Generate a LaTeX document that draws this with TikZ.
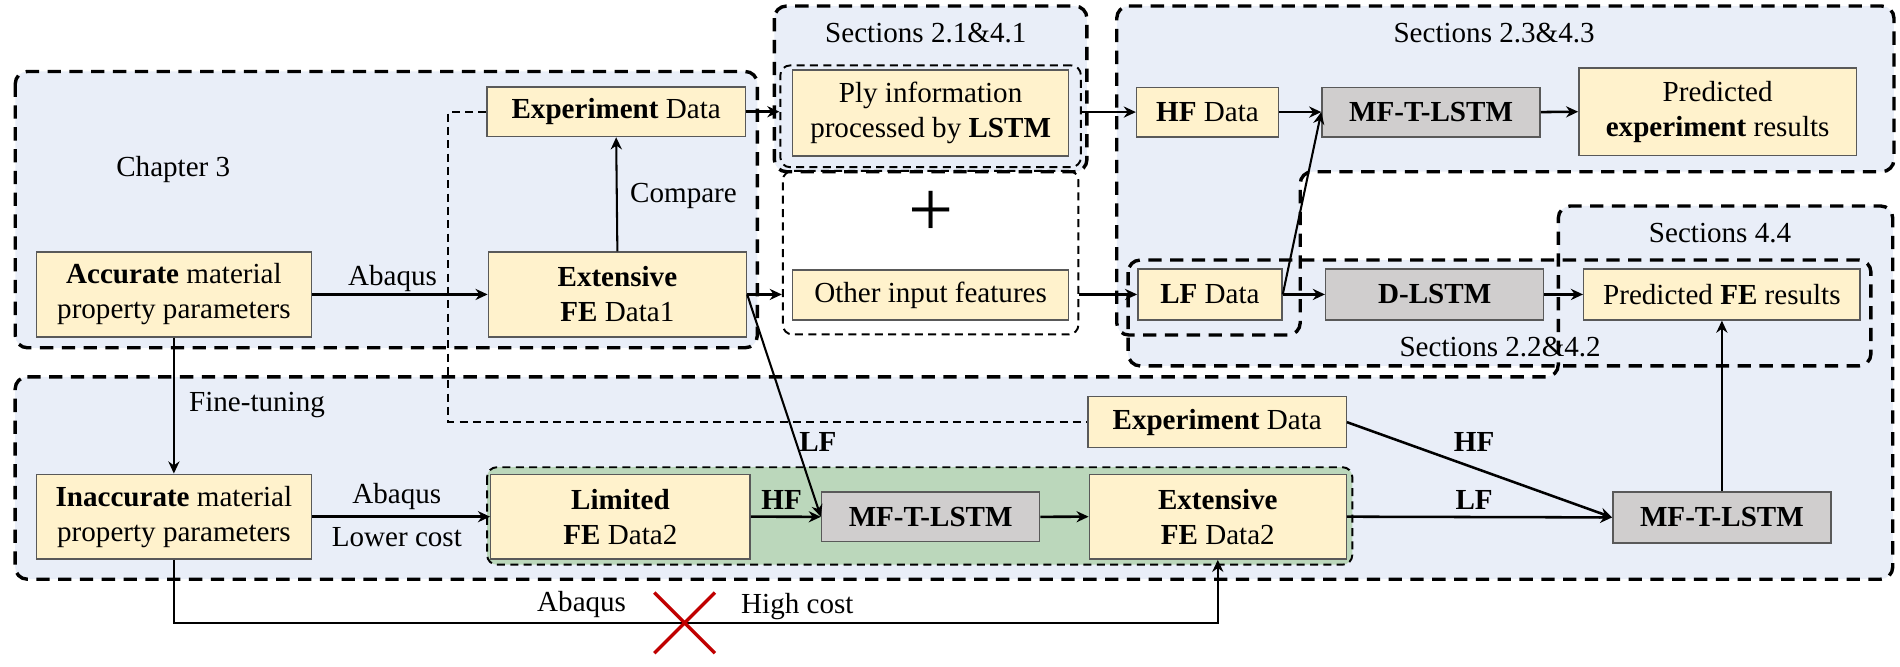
\documentclass[tikz,border=0pt]{standalone}
\usepackage{fontspec}
\setmainfont{Liberation Serif}
\usetikzlibrary{arrows.meta}
\definecolor{boxY}{HTML}{FFF2CC}
\definecolor{boxG}{HTML}{D0CECE}
\definecolor{regB}{HTML}{E9EEF8}
\definecolor{regG}{HTML}{BBD7BB}
\definecolor{xred}{HTML}{C00000}
\begin{document}
\begin{tikzpicture}[x=0.5pt,y=-0.5pt,
  every node/.style={font=\fontsize{12}{14.5}\selectfont},
  ybox/.style={draw=black!65, line width=0.6pt, fill=boxY, inner sep=0pt, align=center},
  gbox/.style={draw=black!65, line width=0.6pt, fill=boxG, inner sep=0pt, align=center, font=\fontsize{12}{14.5}\selectfont\bfseries},
  region/.style={draw=black, line width=1.4pt, dash pattern=on 5.5pt off 3.5pt, rounded corners=5pt},
  thinreg/.style={draw=black, line width=0.8pt, dash pattern=on 3.3pt off 2.2pt, rounded corners=4pt},
  thinline/.style={draw=black, line width=0.8pt, dash pattern=on 3.3pt off 2.2pt},
  arr/.style={-{Stealth[length=5pt,width=4.6pt]}, line width=1.05pt},
  tarr/.style={-{Stealth[length=5pt,width=4.6pt]}, line width=0.85pt}]
\useasboundingbox (0,0) rectangle (1568,550);
% region fills
\fill[regB, rounded corners=5pt] (12.6,59) rectangle (625,287);
\fill[regB, rounded corners=5pt] (639,5) rectangle (897,141.7);
\fill[regB, rounded corners=5pt] (921.6,5) -- (1563,5) -- (1563,141.7) -- (1073,141.7) -- (1073,276.5) -- (921.6,276.5) -- cycle;
\fill[regB, rounded corners=5pt] (12.5,311) -- (1286,311) -- (1286,170) -- (1562,170) -- (1562,478) -- (12.5,478) -- cycle;
\fill[regB, rounded corners=5pt] (931,214.6) rectangle (1544,302);
\fill[regG, rounded corners=4pt] (402,385.6) rectangle (1116,466);
% region borders
\draw[region] (12.6,59) rectangle (625,287);
\draw[region] (639,5) rectangle (897,141.7);
\draw[region] (921.6,5) -- (1563,5) -- (1563,141.7) -- (1073,141.7) -- (1073,276.5) -- (921.6,276.5) -- cycle;
\draw[region] (12.5,311) -- (1286,311) -- (1286,170) -- (1562,170) -- (1562,478) -- (12.5,478) -- cycle;
\draw[region] (931,214.6) rectangle (1544,302);
\draw[thinreg] (402,385.6) rectangle (1116,466);
% thin enclosures
\node[thinreg, inner sep=0pt, minimum width=124pt, minimum height=42pt] (plyb) at (768,96) {};
\node[thinreg, inner sep=0pt, minimum width=122pt, minimum height=67.5pt] (othb) at (768,208.5) {};
% region labels
\node (lch3) at (143,140) {Chapter 3};
\node (ls21) at (764,27) {Sections 2.1\&4.1};
\node (ls23) at (1233,27.5) {Sections 2.3\&4.3};
\node (ls44) at (1419.5,192.5) {Sections 4.4};
\node (ls22) at (1238,286) {Sections 2.2\&4.2};
\node[font=\fontsize{33}{33}\selectfont] (plus) at (768,176.6) {+};
% boxes
\node[ybox, minimum width=106.5pt, minimum height=20.5pt] (expT) at (508.5,92.2) {\textbf{Experiment} Data};
\node[ybox, minimum width=113.5pt, minimum height=35pt] (acc) at (143.5,243) {\textbf{Accurate} material\\property parameters};
\node[ybox, minimum width=106.5pt, minimum height=35pt] (ext1) at (509.5,243) {\textbf{Extensive}\\\textbf{FE} Data1};
\node[ybox, minimum width=114pt, minimum height=35.5pt] (ply) at (768,93.3) {Ply information\\processed by \textbf{LSTM}};
\node[ybox, minimum width=114pt, minimum height=20.5pt] (other) at (768,243.5) {Other input features};
\node[ybox, minimum width=58.5pt, minimum height=20.5pt] (hf) at (996.5,92.5) {\textbf{HF} Data};
\node[gbox, minimum width=90pt, minimum height=20.5pt] (mft1) at (1181,92.5) {MF-T-LSTM};
\node[ybox, minimum width=114.5pt, minimum height=36pt] (predE) at (1417.5,92.2) {Predicted\\\textbf{experiment} results};
\node[ybox, minimum width=59.5pt, minimum height=21pt] (lf) at (998.5,243) {\textbf{LF} Data};
\node[gbox, minimum width=90pt, minimum height=21pt] (dl) at (1184,243) {D-LSTM};
\node[ybox, minimum width=114pt, minimum height=21pt] (predF) at (1421,243) {Predicted \textbf{FE} results};
\node[ybox, minimum width=106.5pt, minimum height=21pt] (expB) at (1004.5,348.4) {\textbf{Experiment} Data};
\node[ybox, minimum width=113.5pt, minimum height=35pt] (inacc) at (143.5,426.4) {\textbf{Inaccurate} material\\property parameters};
\node[ybox, minimum width=107pt, minimum height=35pt] (lim) at (512,426.4) {\textbf{Limited}\\\textbf{FE} Data2};
\node[gbox, minimum width=90pt, minimum height=20.5pt] (mft2) at (768,426.5) {MF-T-LSTM};
\node[ybox, minimum width=106pt, minimum height=35pt] (ext2) at (1005,426.4) {\textbf{Extensive}\\\textbf{FE} Data2};
\node[gbox, minimum width=90pt, minimum height=21pt] (mft3) at (1421,427) {MF-T-LSTM};
% helper coordinates
\coordinate (dlc) at (370,0);
\coordinate (bot) at (0,514);
% dashed link between the two experiment boxes
\draw[thinline] (expT.west) -| (dlc |- expB.west) -- (expB.west);
% connectors
\draw[arr] (acc.east) -- (ext1.west);
\draw[tarr] (ext1.north) -- (expT.south);
\draw[arr] (expT.east) -- (expT.east -| plyb.west);
\draw[arr] (ext1.east) -- (ext1.east -| othb.west);
\draw[arr] (plyb.east |- hf.west) -- (hf.west);
\draw[arr] (othb.east |- lf.west) -- (lf.west);
\draw[arr] (hf.east) -- (mft1.west);
\draw[arr] (mft1.east) -- (predE.west);
\draw[tarr] (lf.east) -- (mft1.west);
\draw[arr] (lf.east) -- (dl.west);
\draw[arr] (dl.east) -- (predF.west);
\draw[tarr] (mft3.north) -- (predF.south);
\draw[tarr] (acc.south) -- (inacc.north);
\draw[arr] (inacc.east) -- (lim.west);
\draw[arr] (lim.east) -- (mft2.west);
\draw[tarr] (ext1.east) -- (mft2.west);
\draw[arr] (mft2.east) -- (ext2.west);
\draw[arr] (expB.east) -- (mft3.west);
\draw[arr] (ext2.east) -- (mft3.west);
\draw[arr] (inacc.south) -- (inacc.south |- bot) -| (ext2.south);
% red cross
\draw[xred, line width=1.4pt] (540,489) -- (590,539) (540,539) -- (590,489);
% connector labels
\node (l1) at (324,229.5) {Abaqus};
\node[anchor=west] (l2) at (513,162) {Compare};
\node[anchor=west] (l3) at (149,334) {Fine-tuning};
\node (l4) at (327.5,410) {Abaqus};
\node (l5) at (327.5,443) {Lower cost};
\node (l6) at (645,412.6) {\textbf{HF}};
\node (l7) at (675,364.5) {\textbf{LF}};
\node (l8) at (1216.5,364.5) {\textbf{HF}};
\node (l9) at (1216.5,412.6) {\textbf{LF}};
\node (l10) at (480,499) {Abaqus};
\node (l11) at (658,500.7) {High cost};
\end{tikzpicture}
\end{document}
